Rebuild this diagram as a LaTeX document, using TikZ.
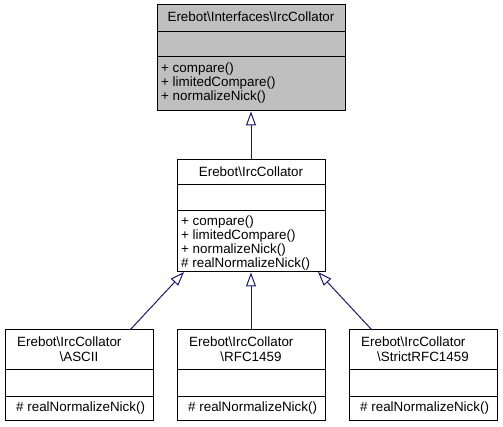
\documentclass[tikz,border=0pt]{standalone}
\usepackage{fontspec}
\setmainfont{Liberation Sans}
\usetikzlibrary{arrows.meta}
\definecolor{edgeblue}{HTML}{191970}
\definecolor{boxgray}{HTML}{BFBFBF}
\tikzset{
  x=1pt, y=-1pt,
  classbox/.style={draw=black, line width=1pt, inner sep=0pt, minimum width=148pt},
  txt/.style={inner sep=0pt, font=\fontsize{13.4}{14}\selectfont},
  lt/.style={txt, anchor=base west},
  ct/.style={txt, anchor=base},
  divider/.style={draw=black, line width=1pt},
  inh/.style={draw=edgeblue, line width=1pt, -{Triangle[open, length=14pt, width=10pt, line width=1pt]}},
}
\begin{document}
\begin{tikzpicture}
\useasboundingbox (0,0) rectangle (503,427);
% top class
\node (top) [classbox, fill=boxgray, minimum width=188pt, minimum height=106pt] at (251,58) {};
\draw[divider] (top.west |- 0,32) -- (top.east |- 0,32);
\draw[divider] (top.west |- 0,57) -- (top.east |- 0,57);
\node (topname) [ct] at (251,22) {Erebot\textbackslash Interfaces\textbackslash IrcCollator};
\node (t1) [lt] at (161,73) {+ compare()};
\node (t2) [lt] at (161,87) {+ limitedCompare()};
\node (t3) [lt] at (161,101) {+ normalizeNick()};
% middle class
\node (mid) [classbox, minimum height=112pt] at (251,216) {};
\draw[divider] (mid.west |- 0,185) -- (mid.east |- 0,185);
\draw[divider] (mid.west |- 0,211) -- (mid.east |- 0,211);
\node (midname) [ct] at (251,177) {Erebot\textbackslash IrcCollator};
\node (m1) [lt] at (181,226) {+ compare()};
\node (m2) [lt] at (181,240) {+ limitedCompare()};
\node (m3) [lt] at (181,254) {+ normalizeNick()};
\node (m4) [lt] at (181,268) {\# realNormalizeNick()};
% bottom classes
\foreach \n/\cx/\sub in {b1/79/ASCII, b2/251/RFC1459, b3/423/StrictRFC1459}{
  \node (\n) [classbox, minimum height=90pt] at (\cx,375) {};
  \draw[divider] (\n.west |- 0,369) -- (\n.east |- 0,369);
  \draw[divider] (\n.west |- 0,396) -- (\n.east |- 0,396);
  \node (\n a) [lt] at (\cx-62,347) {Erebot\textbackslash IrcCollator};
  \node (\n b) [ct] at (\cx,361) {\textbackslash\sub};
  \node (\n c) [lt] at (\cx-63,411) {\# realNormalizeNick()};
}
% inheritance
\draw[inh] (mid.north) -- (top.south);
\coordinate (b1t) at (130,330);
\coordinate (mb1) at (184,272);
\coordinate (b3t) at (372,330);
\coordinate (mb3) at (318,272);
\draw[inh] (b1t) -- (mb1);
\draw[inh] (b2.north) -- (mid.south);
\draw[inh] (b3t) -- (mb3);
\end{tikzpicture}
\end{document}
